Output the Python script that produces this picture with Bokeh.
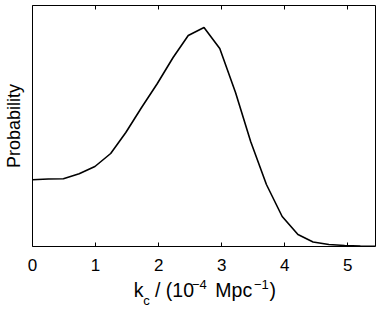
from bokeh.plotting import figure
from bokeh.layouts import column
from bokeh.models import Range1d, LinearAxis, Label, FixedTicker, CustomJSTickFormatter
from bokeh.embed import file_html
from bokeh.resources import INLINE

# data
k_c = [0.00, 0.25, 0.49, 0.74, 0.99, 1.24, 1.48, 1.73, 1.98, 2.23, 2.47, 2.72,
       2.97, 3.22, 3.46, 3.71, 3.96, 4.21, 4.45, 4.70, 4.95, 5.20, 5.44]
probability = [66.7, 67.5, 67.7, 72.7, 80.0, 93.0, 114.0, 139.0, 163.0, 189.0, 211.0, 219.0,
               198.0, 154.0, 105.0, 62.0, 30.0, 12.0, 4.5, 2.0, 1.0, 0.5, 0.3]
x_ticks = [0, 1, 2, 3, 4, 5]

FONT = "Liberation Sans"
W = 381

p = figure(width=W, height=278, output_backend="svg", toolbar_location=None,
           x_range=Range1d(0, 5.44), y_range=Range1d(0, 241),
           min_border_left=32, min_border_right=6, min_border_top=5, min_border_bottom=32)
p.grid.visible = False
p.background_fill_color = "white"
p.border_fill_color = "white"
p.outline_line_color = "black"
p.outline_line_width = 1

p.line(k_c, probability, line_color="black", line_width=1.6)

# bottom axis
xa = p.xaxis[0]
xa.ticker = FixedTicker(ticks=x_ticks)
xa.axis_line_color = None
xa.major_tick_in = 4
xa.major_tick_out = 0
xa.major_tick_line_color = "black"
xa.minor_tick_line_color = None
xa.major_label_text_font = FONT
xa.major_label_text_font_size = "17px"
xa.major_label_text_color = "black"
xa.major_label_standoff = 12

# top axis with ticks only
ta = LinearAxis(ticker=FixedTicker(ticks=x_ticks),
                formatter=CustomJSTickFormatter(code="return ''"))
ta.axis_line_color = None
ta.major_tick_in = 4
ta.major_tick_out = 0
ta.major_tick_line_color = "black"
ta.minor_tick_line_color = None
ta.major_label_standoff = 0
p.add_layout(ta, "above")

# left axis: label only
ya = p.yaxis[0]
ya.ticker = FixedTicker(ticks=[])
ya.axis_line_color = None
ya.major_tick_line_color = None
ya.minor_tick_line_color = None
ya.major_label_standoff = 0
ya.axis_label = "Probability"
ya.axis_label_text_font = FONT
ya.axis_label_text_font_size = "18px"
ya.axis_label_text_font_style = "normal"
ya.axis_label_text_color = "black"
ya.axis_label_standoff = 9

# strip below the plot carrying the x-axis title (with sub/superscripts)
H2 = 33
q = figure(width=W, height=H2, output_backend="svg", toolbar_location=None,
           x_range=Range1d(0, W), y_range=Range1d(0, H2),
           x_axis_location=None, y_axis_location=None,
           min_border_left=0, min_border_right=0, min_border_top=0, min_border_bottom=0)
q.grid.visible = False
q.outline_line_color = None
q.background_fill_color = "white"
q.border_fill_color = "white"

DX = -32.5   # offset of the strip's frame
DY = 6.0

def lab(text, x, y, size):
    q.add_layout(Label(x=x + DX, y=y + DY, x_units="screen", y_units="screen", text=text,
                       text_font=FONT, text_font_size=size, text_color="black",
                       text_align="left", text_baseline="alphabetic"))

TOTAL = 278 + H2
base = TOTAL - 295.7
sub = TOTAL - 305.5
sup = TOTAL - 290.0
lab("k", 133.7, base, "19.5px")
lab("c", 143.3, sub, "13px")
lab("/ (10", 155.0, base, "19.5px")
lab("\u22124", 192.0, sup, "13px")
lab("Mpc", 215.3, base, "19.5px")
lab("\u22121", 254.0, sup, "13px")
lab(")", 269.5, base, "19.5px")

layout = column(p, q, spacing=0)
open("out.html", "w").write(file_html(layout, INLINE))
